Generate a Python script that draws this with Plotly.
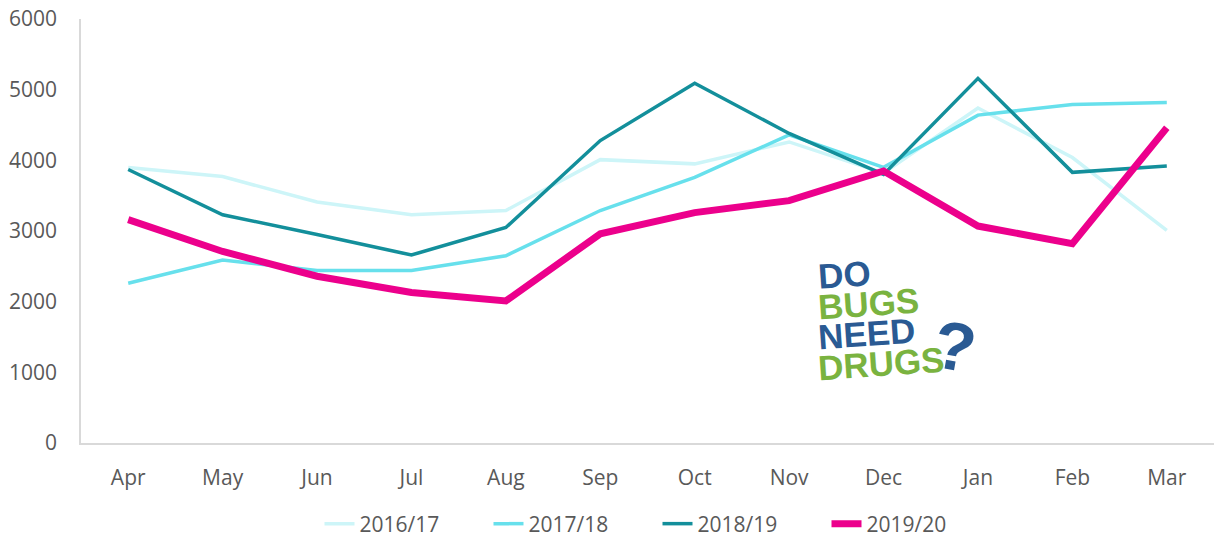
import plotly.graph_objects as go

months = ["Apr", "May", "Jun", "Jul", "Aug", "Sep", "Oct", "Nov", "Dec", "Jan", "Feb", "Mar"]
y2016_17 = [3900, 3770, 3410, 3230, 3290, 4010, 3950, 4260, 3820, 4740, 4040, 3010]
y2017_18 = [2260, 2590, 2440, 2440, 2650, 3290, 3760, 4360, 3900, 4640, 4790, 4820]
y2018_19 = [3870, 3230, 2950, 2660, 3050, 4280, 5090, 4380, 3800, 5160, 3830, 3920]
y2019_20 = [3160, 2710, 2360, 2130, 2010, 2960, 3260, 3430, 3850, 3070, 2820, 4460]

series = [
    ("2016/17", y2016_17, "#cdf5f8", 3.5),
    ("2017/18", y2017_18, "#67e0ec", 3.5),
    ("2018/19", y2018_19, "#138f9b", 3.5),
    ("2019/20", y2019_20, "#ec008c", 7),
]

fig = go.Figure()
for name, vals, color, w in series:
    fig.add_trace(go.Scatter(x=months, y=vals, name=name, mode="lines",
                             line=dict(color=color, width=w)))

W, H = 1222, 538
L, R, T, B = 81, 8, 19, 95
PW = W - L - R
PH = H - T - B
font_fam = "Open Sans, sans-serif"
fig.update_layout(
    width=W, height=H,
    margin=dict(l=L, r=R, t=T, b=B, autoexpand=False),
    paper_bgcolor="white", plot_bgcolor="white",
    font=dict(family=font_fam, color="#595959", size=21),
    showlegend=True,
    legend=dict(orientation="h", x=0.5 + 10 / PW, xanchor="center",
                yref="container", y=(H - 524) / H, yanchor="middle",
                font=dict(size=21, color="#595959"), tracegroupgap=0,
                entrywidth=124, entrywidthmode="pixels"),
    xaxis=dict(range=[-0.5, 11.5], showgrid=False, showline=True, linecolor="#d9d9d9", linewidth=1.5,
               ticks="", ticklabelstandoff=15, zeroline=False, ticklabeloverflow="allow"),
    yaxis=dict(range=[0, 6000], tickvals=[0, 1000, 2000, 3000, 4000, 5000, 6000],
               showgrid=False, showline=True, linecolor="#d9d9d9", linewidth=1.5,
               ticks="", ticklabelstandoff=18, zeroline=False, ticklabeloverflow="allow"),
)

blue = "#2a5a93"
green = "#7ab340"
logo = [
    ("DO", blue, 815, 274),
    ("BUGS", green, 815, 303),
    ("NEED", blue, 815, 333),
    ("DRUGS", green, 815, 363),
]
for txt, col, px, py in logo:
    fig.add_annotation(xref="paper", yref="paper",
                       x=(px - L) / PW, y=(H - B - py) / PH,
                       xanchor="left", yanchor="middle", showarrow=False,
                       text="<b>" + txt + "</b>", textangle=-4,
                       font=dict(family="Liberation Sans, Arial, sans-serif", size=35, color=col))
fig.add_annotation(xref="paper", yref="paper",
                   x=(955 - L) / PW, y=(H - B - 346) / PH,
                   xanchor="center", yanchor="middle", showarrow=False,
                   text="<b>?</b>", textangle=10,
                   font=dict(family="Liberation Sans, sans-serif", size=68, color=blue))

fig.write_html("out.html", config={"displayModeBar": False},
               post_script="document.body.style.margin='0px';document.body.style.overflow='hidden';")
